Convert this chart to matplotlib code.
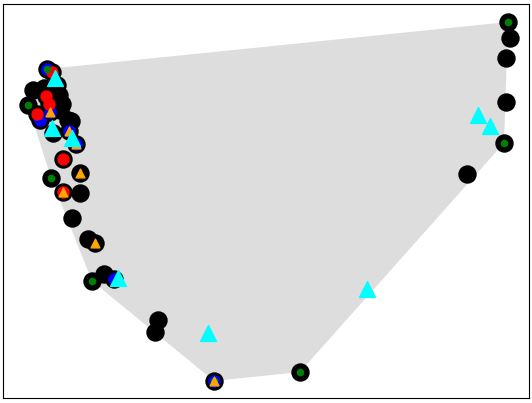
import numpy as np
import matplotlib
matplotlib.use("Agg")
import matplotlib.pyplot as plt

# every sample point (drawn as a black disc)
pts_x = [47, 52, 57, 33, 44, 59, 46, 49, 62, 28, 37, 40, 50, 60, 68, 71, 53, 69, 76,
         63, 80, 51, 63, 80, 72, 88, 95, 104, 92, 114, 158, 155, 214, 300, 467, 504,
         506, 506, 510, 508]
pts_y = [334, 331, 318, 313, 315, 308, 307, 299, 299, 298, 289, 283, 291, 293, 283,
         282, 270, 272, 259, 244, 230, 225, 211, 210, 185, 164, 160, 129, 122, 124,
         83, 71, 22, 31, 229, 260, 301, 345, 365, 381]

# sub-groups marked on top of the black discs
green_x = [47, 28, 51, 92, 214, 300, 504, 508]
green_y = [334, 298, 225, 122, 22, 31, 260, 381]

blue_x = [47, 40, 50, 69, 76, 114, 214]
blue_y = [334, 283, 291, 272, 259, 124, 22]

red_x = [52, 46, 49, 37, 63, 63]
red_y = [331, 307, 299, 289, 244, 211]

orange_x = [50, 69, 76, 80, 63, 95, 214]
orange_y = [291, 272, 259, 230, 211, 160, 22]

# separate group, no disc behind
cyan_x = [55, 52, 72, 118, 208, 367, 478, 490]
cyan_y = [325, 275, 265, 125, 70, 114, 288, 277]


def convex_hull(xs, ys):
    p = sorted(set(zip(xs, ys)))

    def cross(o, a, b):
        return (a[0] - o[0]) * (b[1] - o[1]) - (a[1] - o[1]) * (b[0] - o[0])

    lower, upper = [], []
    for q in p:
        while len(lower) >= 2 and cross(lower[-2], lower[-1], q) <= 0:
            lower.pop()
        lower.append(q)
    for q in reversed(p):
        while len(upper) >= 2 and cross(upper[-2], upper[-1], q) <= 0:
            upper.pop()
        upper.append(q)
    return np.array(lower[:-1] + upper[:-1])


fig = plt.figure(figsize=(5.32, 4.03), dpi=100)
ax = fig.add_axes([3 / 532, 5 / 403, 526 / 532, 394 / 403])

hull = convex_hull(green_x, green_y)
ax.fill(hull[:, 0], hull[:, 1], color="#dddddd", lw=0, zorder=1)

ax.scatter(pts_x, pts_y, s=150, c="black", zorder=2)
ax.scatter(blue_x, blue_y, s=95, c="blue", edgecolors="black", linewidths=0.6, zorder=3)
ax.scatter(red_x, red_y, s=62, c="red", zorder=4)
ax.scatter(green_x, green_y, s=20, c="green", zorder=5)
ax.scatter(orange_x, orange_y, s=40, marker="^", c="orange", zorder=6)
ax.scatter(cyan_x, cyan_y, s=130, marker="^", c="cyan", zorder=7)

ax.set_xlim(3, 529)
ax.set_ylim(5, 399)
ax.set_xticks([])
ax.set_yticks([])

fig.savefig("out.png", dpi=100)
